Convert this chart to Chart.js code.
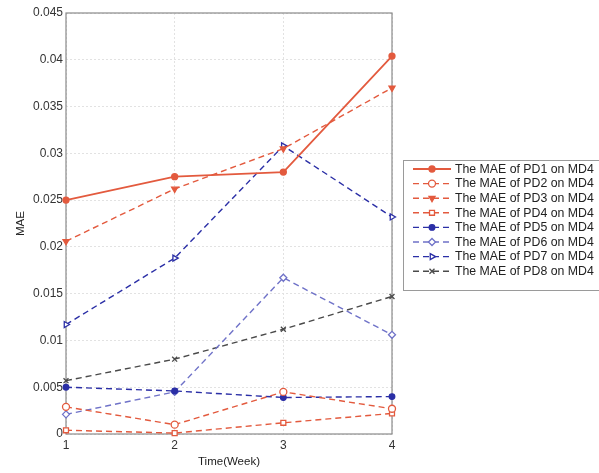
<!DOCTYPE html>
<html>
<head>
<meta charset="utf-8">
<script src="https://cdn.jsdelivr.net/npm/chart.js@4/dist/chart.umd.min.js"></script>
<style>
  html, body { margin: 0; padding: 0; background: #fff; }
  #wrap { width: 599px; height: 473px; position: relative; }
</style>
</head>
<body>
<div id="wrap"><canvas id="maeChart" width="599" height="473"></canvas></div>
<script>
// --- Data ---
const weeks = [1, 2, 3, 4];
const yTicks = [0, 0.005, 0.01, 0.015, 0.02, 0.025, 0.03, 0.035, 0.04, 0.045];

const pd1 = [0.0250, 0.0275, 0.0280, 0.0404];
const pd2 = [0.0029, 0.0010, 0.0045, 0.0027];
const pd3 = [0.0206, 0.0262, 0.0305, 0.0370];
const pd4 = [0.0004, 0.0001, 0.0012, 0.0022];
const pd5 = [0.0050, 0.0046, 0.0039, 0.0040];
const pd6 = [0.0021, 0.0045, 0.0167, 0.0106];
const pd7 = [0.0117, 0.0188, 0.0308, 0.0232];
const pd8 = [0.0057, 0.0080, 0.0112, 0.0147];

const labels = [
    'The MAE of PD1 on MD4', 'The MAE of PD2 on MD4', 'The MAE of PD3 on MD4', 'The MAE of PD4 on MD4',
    'The MAE of PD5 on MD4', 'The MAE of PD6 on MD4', 'The MAE of PD7 on MD4', 'The MAE of PD8 on MD4'
];

const RED = '#e35a3e';
const BLUE = '#2b2fa6';
const LBLUE = '#6f72c8';
const GREY = '#4a4a4a';

function series(label, values, color, style, opts) {
    return Object.assign({
        label: label,
        data: values.map((v, i) => ({ x: weeks[i], y: v })),
        borderColor: color,
        backgroundColor: '#fff',
        pointBorderColor: color,
        pointBackgroundColor: '#fff',
        pointStyle: style,
        pointRadius: 3.5,
        pointBorderWidth: 1.3,
        pointRotation: 0,
        borderWidth: 1.4,
        borderDash: [6, 4],
        tension: 0,
        fill: false,
        clip: false
    }, opts || {});
}

const datasets = [
    series(labels[0], pd1, RED, 'circle', { borderDash: [], borderWidth: 1.8, pointBackgroundColor: RED, pointRadius: 3 }),
    series(labels[1], pd2, RED, 'circle'),
    series(labels[2], pd3, RED, 'triangle', { pointRotation: 180, pointBackgroundColor: RED }),
    series(labels[3], pd4, RED, 'rect'),
    series(labels[4], pd5, BLUE, 'circle', { pointBackgroundColor: BLUE, pointRadius: 2.8 }),
    series(labels[5], pd6, LBLUE, 'rectRot'),
    series(labels[6], pd7, BLUE, 'triangle', { pointRotation: 90 }),
    series(labels[7], pd8, GREY, 'crossRot')
];

// --- Plot frame + boxed legend (MATLAB style) ---
const framePlugin = {
    id: 'frame',
    beforeDatasetsDraw(chart) {
        const { ctx, chartArea: a } = chart;
        ctx.save();
        ctx.strokeStyle = '#8a8a8a';
        ctx.lineWidth = 1.2;
        ctx.strokeRect(a.left, a.top, a.right - a.left, a.bottom - a.top);
        ctx.restore();
    },
    afterDatasetsDraw(chart) {
        const { ctx, chartArea: a } = chart;
        ctx.save();
        // legend box
        const bx = a.right + 11, by = a.top + 147, rowH = 14.6;
        ctx.fillStyle = '#fff';
        ctx.fillRect(bx, by, 220, 130);
        ctx.strokeStyle = '#9a9a9a';
        ctx.lineWidth = 1;
        ctx.strokeRect(bx + 0.5, by + 0.5, 220, 130);
        ctx.font = '12.3px "Liberation Sans", Arial, sans-serif';
        ctx.textBaseline = 'middle';
        chart.data.datasets.forEach((ds, i) => {
            const y = by + 9 + i * rowH;
            ctx.strokeStyle = ds.borderColor;
            ctx.lineWidth = ds.borderWidth;
            ctx.setLineDash(ds.borderDash);
            ctx.beginPath();
            ctx.moveTo(bx + 10, y);
            ctx.lineTo(bx + 48, y);
            ctx.stroke();
            ctx.setLineDash([]);
            ctx.fillStyle = ds.pointBackgroundColor;
            ctx.strokeStyle = ds.pointBorderColor;
            ctx.lineWidth = ds.pointBorderWidth;
            Chart.helpers.drawPoint(ctx, {
                pointStyle: ds.pointStyle, rotation: ds.pointRotation,
                radius: ds.pointRadius, borderWidth: ds.pointBorderWidth
            }, bx + 29, y);
            ctx.fillStyle = '#222';
            ctx.fillText(ds.label, bx + 52, y + 0.5);
        });
        ctx.restore();
    }
};

const ctx = document.getElementById('maeChart').getContext('2d');
new Chart(ctx, {
    type: 'line',
    data: { datasets: datasets },
    plugins: [framePlugin],
    options: {
        responsive: false,
        animation: false,
        layout: { padding: { top: 13, right: 207, left: 0, bottom: 0 } },
        plugins: { legend: { display: false }, tooltip: { enabled: false } },
        scales: {
            x: {
                type: 'linear',
                min: 1, max: 4,
                afterFit: s => { s.height = 39; },
                afterBuildTicks: s => { s.ticks = weeks.map(v => ({ value: v })); },
                grid: { color: '#e2e2e2', drawTicks: false },
                border: { display: false, dash: [2, 2] },
                ticks: {
                    color: '#333', padding: 4,
                    font: { family: '"Liberation Sans", Arial', size: 12 },
                    callback: v => String(v)
                },
                title: {
                    display: true, text: 'Time(Week)', color: '#222', padding: { top: 2 },
                    font: { family: '"Liberation Sans", Arial', size: 11.5 }
                }
            },
            y: {
                min: 0, max: 0.045,
                afterFit: s => { s.width = 66; },
                afterBuildTicks: s => { s.ticks = yTicks.map(v => ({ value: v })); },
                grid: { color: '#e2e2e2', drawTicks: false },
                border: { display: false, dash: [2, 2] },
                ticks: {
                    color: '#333', padding: 3,
                    font: { family: '"Liberation Sans", Arial', size: 12 },
                    callback: v => String(+v.toFixed(3))
                },
                title: {
                    display: true, text: 'MAE', color: '#222', padding: { top: 14, bottom: 4 },
                    font: { family: '"Liberation Sans", Arial', size: 11.5 }
                }
            }
        }
    }
});
</script>
</body>
</html>
